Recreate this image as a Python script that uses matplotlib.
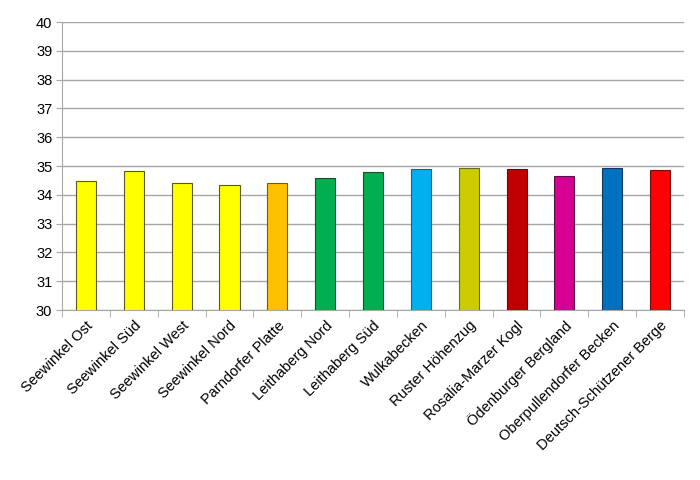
import numpy as np
import matplotlib.pyplot as plt
from matplotlib.ticker import FixedLocator

plt.rcParams['font.family'] = ['Liberation Sans', 'DejaVu Sans']

# Regionen und Werte
regionen = ["Seewinkel Ost", "Seewinkel Süd", "Seewinkel West", "Seewinkel Nord",
            "Parndorfer Platte", "Leithaberg Nord", "Leithaberg Süd", "Wulkabecken",
            "Ruster Höhenzug", "Rosalia-Marzer Kogl", "Ödenburger Bergland",
            "Oberpullendorfer Becken", "Deutsch-Schützener Berge"]
werte = [34.49, 34.83, 34.42, 34.33, 34.40, 34.57, 34.79, 34.90,
         34.93, 34.90, 34.64, 34.92, 34.85]
farben = ["#FFFF00", "#FFFF00", "#FFFF00", "#FFFF00", "#FFC000", "#00B050", "#00B050",
          "#00B0F0", "#CCCC00", "#C00000", "#D60093", "#0070C0", "#FF0000"]
rand = ["#5a5a20", "#5a5a20", "#5a5a20", "#5a5a20", "#6a5a30", "#1f4a2a", "#1f4a2a",
        "#305a70", "#6a6a20", "#5a1010", "#5a1040", "#103a60", "#6a1010"]

fig = plt.figure(figsize=(7, 4.8), dpi=100)
ax = fig.add_axes([0.0886, 0.354, 0.8886, 0.6])

x = np.arange(len(regionen))
ax.bar(x, werte, width=0.42, color=farben, edgecolor=rand, linewidth=0.8,
       bottom=0, zorder=3)

ax.set_ylim(30, 40)
ax.set_xlim(-0.5, len(regionen) - 0.5)
ax.set_yticks(np.arange(30, 41, 1))
ax.yaxis.grid(True, color="#a6a6a6", linewidth=1, zorder=0)
ax.tick_params(axis='y', length=4, color="#a6a6a6", labelsize=10.5, pad=3)

# Kategorien-Ticks an den Grenzen
ax.set_xticks(x)
ax.set_xticklabels(regionen, rotation=45, ha='right', rotation_mode='anchor', fontsize=10.5)
ax.tick_params(axis='x', length=0, pad=6)
ax.xaxis.set_minor_locator(FixedLocator(np.arange(-0.5, len(regionen), 1)))
ax.tick_params(axis='x', which='minor', length=5, color="#a6a6a6")

for s in ['top', 'right']:
    ax.spines[s].set_visible(False)
ax.spines['left'].set_color("#a6a6a6")
ax.spines['bottom'].set_color("#a6a6a6")

fig.savefig("out.png", dpi=100)
